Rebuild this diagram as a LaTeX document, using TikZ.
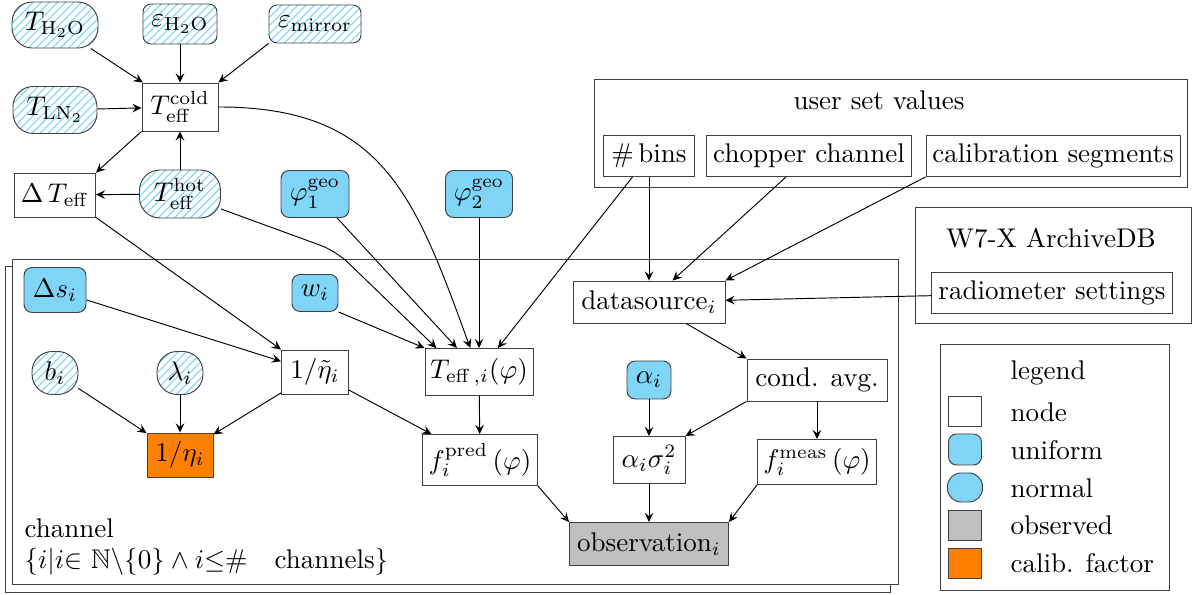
\documentclass[tikz,border=0pt]{standalone}
\usepackage{amsmath,amssymb}
\usetikzlibrary{arrows.meta,patterns}
\definecolor{ublue}{RGB}{128,213,247}
\definecolor{calibc}{RGB}{255,128,0}
\definecolor{obsgray}{RGB}{191,191,191}
\begin{document}
\begin{tikzpicture}[x=0.37pt,y=-0.37pt,
  box/.style={draw=black!75, line width=0.35pt, inner sep=1pt, align=center},
  sz/.style 2 args={minimum width=#1*0.37pt, minimum height=#2*0.37pt},
  nodebox/.style={box, fill=white},
  uniform/.style={box, fill=ublue, rounded corners=3pt},
  hatch/.style={pattern=north east lines, pattern color=ublue},
  hnormal/.style={box, hatch, rounded corners=7.5pt},
  huniform/.style={box, hatch, rounded corners=3pt},
  observed/.style={box, fill=obsgray},
  calibf/.style={box, fill=calibc},
  frame/.style={draw=black!75, line width=0.35pt, inner sep=0pt},
  arr/.style={line width=0.35pt, -{Stealth[length=3.4pt,width=3.2pt,inset=1.3pt]}},
  plate/.style={draw=black!75, line width=0.35pt, fill=white},
  txt/.style={inner sep=0pt},
]
\useasboundingbox (0,0) rectangle (1198,595);

% plate
\path[plate] (5,266) rectangle (890,592);
\path[plate] (12,259) rectangle (898,584);

% top nodes
\node[hnormal, sz={86}{46}] (TH2O) at (55,25) {$T_{\mathrm{H_2O}}$};
\node[huniform, sz={74}{40}] (eH2O) at (180,24) {$\varepsilon_{\mathrm{H_2O}}$};
\node[huniform, sz={92}{38}] (emir) at (315,24) {$\varepsilon_{\mathrm{mirror}}$};
\node[hnormal, sz={84}{47}] (TLN) at (55,110) {$T_{\mathrm{LN_2}}$};
\node[nodebox, sz={76}{48}] (Tcold) at (180,107) {$T_{\mathrm{eff}}^{\mathrm{cold}}$};
\node[nodebox, sz={81}{44}] (DT) at (55,195) {$\Delta\,T_{\mathrm{eff}}$};
\node[hnormal, sz={81}{48}] (Thot) at (180,194) {$T_{\mathrm{eff}}^{\mathrm{hot}}$};
\node[uniform, sz={68}{47}] (phi1) at (315,194) {$\varphi_1^{\mathrm{geo}}$};
\node[uniform, sz={67}{47}] (phi2) at (479,194) {$\varphi_2^{\mathrm{geo}}$};

% user set values
\node[frame, sz={593}{108}] (user) at (890.5,133) {};
\node[txt] (usertitle) at (879,100) {user set values};
\node[nodebox, sz={91}{41}] (bins) at (649,156) {$\#$\,bins};
\node[nodebox, sz={205}{41}] (chop) at (809,156) {chopper channel};
\node[nodebox, sz={254}{41}] (calseg) at (1053,156) {calibration segments};

% W7-X
\node[frame, sz={276}{116}] (w7x) at (1053,265) {};
\node[txt] (w7xtitle) at (1051,238) {W7-X ArchiveDB};
\node[nodebox, sz={241}{41}] (radio) at (1052,293) {radiometer settings};

% plate contents
\node[nodebox, sz={152}{42}] (ds) at (649,302) {datasource$_i$};
\node[uniform, sz={62}{45}] (dsi) at (55,290) {$\Delta s_i$};
\node[uniform, sz={46}{37}] (w) at (315,293) {$w_i$};
\node[hnormal, sz={46}{43}] (b) at (55,373) {$b_i$};
\node[hnormal, sz={46}{43}] (lam) at (180,373) {$\lambda_i$};
\node[nodebox, sz={67}{44}] (etat) at (315,372) {$1/\tilde\eta_i$};
\node[calibf, sz={66}{44}] (eta) at (180,455) {$1/\eta_i$};
\node[nodebox, sz={108}{47}] (Teffi) at (479,372) {$T_{\mathrm{eff}\,,i}(\varphi)$};
\node[nodebox, sz={115}{51}] (fpred) at (480,460) {$f_i^{\mathrm{pred}}\left(\varphi\right)$};
\node[uniform, sz={44}{38}] (alpha) at (649,380) {$\alpha_i$};
\node[nodebox, sz={72}{47}] (asig) at (649,460) {$\alpha_i\sigma_i^2$};
\node[nodebox, sz={140}{42}] (cond) at (817,380) {cond. avg.};
\node[nodebox, sz={119}{45}] (fmeas) at (817,462) {$f_i^{\mathrm{meas}}\left(\varphi\right)$};
\node[observed, sz={159}{43}] (obs) at (649,544) {observation$_i$};
\node[txt, anchor=west] (chlabel) at (24,528) {channel};
\node[txt, anchor=west] (chset) at (24,562) {$\{i|i{\in}\ \mathbb{N}\backslash\{0\}\wedge i{\leq}\#\quad\text{channels}\}$};

% legend
\node[frame, sz={229}{246}] (leg) at (1054.5,467) {};
\node[txt, anchor=west] (legt) at (1010,373) {legend};
\node[nodebox, sz={33}{30}] (l1) at (965,411.5) {};
\node[txt, anchor=west] (l1t) at (1010,412) {node};
\node[uniform, sz={33}{31}] (l2) at (965,449.5) {};
\node[txt, anchor=west] (l2t) at (1010,450) {uniform};
\node[box, fill=ublue, rounded corners=5pt, sz={35}{29}] (l3) at (965,487.5) {};
\node[txt, anchor=west] (l3t) at (1010,488) {normal};
\node[observed, sz={33}{30}] (l4) at (965,525) {};
\node[txt, anchor=west] (l4t) at (1010,525) {observed};
\node[calibf, sz={33}{30}] (l5) at (965,563) {};
\node[txt, anchor=west] (l5t) at (1010,563) {calib. factor};

% edges
\draw[arr] (TH2O) -- (Tcold);
\draw[arr] (eH2O) -- (Tcold);
\draw[arr] (emir.south west) -- (Tcold.north east);
\draw[arr] (TLN) -- (Tcold);
\draw[arr] (Thot) -- (Tcold);
\draw[arr] (Tcold.south west) -- (DT.north east);
\draw[arr] (Thot) -- (DT);
\draw[arr] (DT.south east) -- (etat.north west);
\draw[arr] (dsi) -- (etat);
\draw[arr] (b) -- (eta);
\draw[arr] (lam) -- (eta);
\draw[arr] (etat) -- (eta);
\draw[arr] (etat) -- (fpred);
\draw[arr] (Teffi) -- (fpred);
\draw[arr] (Tcold) to[out=0,in=110,looseness=1.2] (Teffi);
\coordinate (hb) at (336,251);
\draw[arr, rounded corners=6pt] (Thot) -- (hb) -- ([xshift=4.4pt]Teffi.north west);
\draw[arr] (phi1) -- (Teffi);
\draw[arr] (phi2) -- (Teffi);
\draw[arr] (w.south east) -- (Teffi.north west);
\draw[arr] (bins) -- (Teffi);
\draw[arr] (bins) -- (ds);
\draw[arr] (chop) -- (ds);
\draw[arr] (calseg.south west) -- (ds.north east);
\draw[arr] (radio) -- (ds);
\draw[arr] (ds) -- (cond.north west);
\draw[arr] (cond) -- (fmeas);
\draw[arr] (cond.south west) -- (asig.north east);
\draw[arr] (alpha) -- (asig);
\draw[arr] (asig) -- (obs);
\draw[arr] (fpred.south east) -- (obs.north west);
\draw[arr] (fmeas.south west) -- (obs.north east);
\end{tikzpicture}
\end{document}
